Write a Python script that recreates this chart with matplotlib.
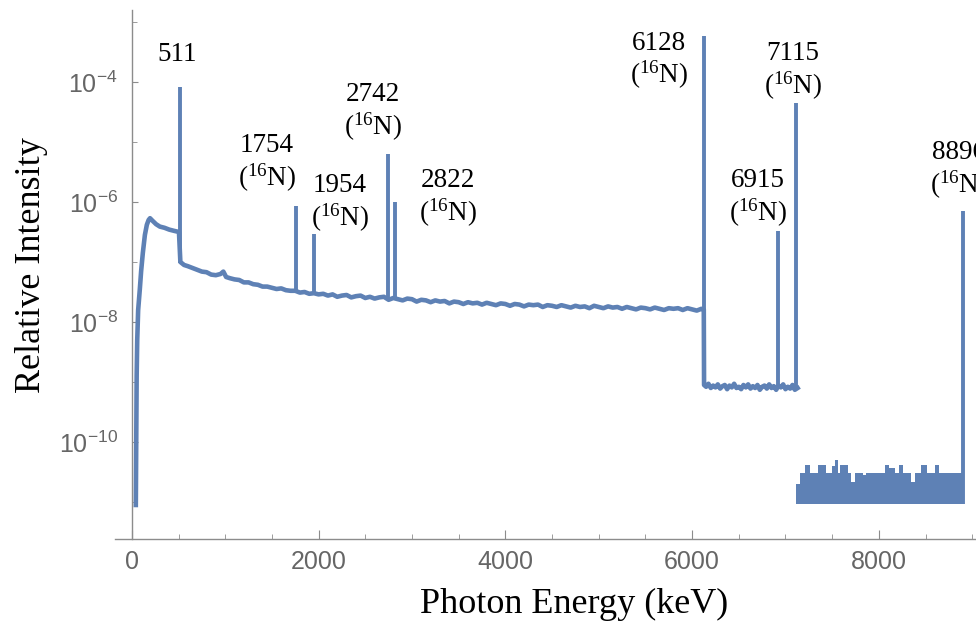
import numpy as np
import matplotlib
matplotlib.use("Agg")
import matplotlib.pyplot as plt
from matplotlib.ticker import FixedLocator, FuncFormatter

plt.rcParams['font.family'] = ['Liberation Serif', 'DejaVu Serif']
plt.rcParams['mathtext.default'] = 'regular'

# continuum, energy (keV) and log10 of relative intensity
cont_e = [43, 47, 52, 58, 68, 86, 100, 118, 140, 161, 180, 195, 220, 260, 300, 350, 400, 450, 505,
          520, 560, 600, 650, 700, 750, 800, 850, 900, 950, 980, 1010, 1050, 1100, 1150, 1200,
          1250, 1300, 1350, 1400, 1450, 1500, 1550, 1600, 1650, 1700, 1750, 1800, 1850, 1900,
          1950, 2000, 2050, 2100, 2150, 2200, 2250, 2300, 2350, 2400, 2450, 2500, 2550, 2600,
          2650, 2700, 2750, 2800, 2850, 2900, 2950, 3000, 3050, 3100, 3150, 3200, 3250, 3300,
          3350, 3400, 3450, 3500, 3550, 3600, 3650, 3700, 3750, 3800, 3850, 3900, 3950, 4000,
          4050, 4100, 4150, 4200, 4250, 4300, 4350, 4400, 4450, 4500, 4550, 4600, 4650, 4700,
          4750, 4800, 4850, 4900, 4950, 5000, 5050, 5100, 5150, 5200, 5250, 5300, 5350, 5400,
          5450, 5500, 5550, 5600, 5650, 5700, 5750, 5800, 5850, 5900, 5950, 6000, 6050, 6100,
          6125,
          6128, 6150, 6175, 6200, 6225, 6250, 6275, 6300, 6325, 6350, 6375, 6400, 6425, 6450,
          6475, 6500, 6525, 6550, 6575, 6600, 6625, 6650, 6675, 6700, 6725, 6750, 6775, 6800,
          6825, 6850, 6875, 6900, 6925, 6950, 6975, 7000, 7025, 7050, 7075, 7100, 7130]
cont_log = [-11.05, -10.0, -8.9, -8.3, -7.8, -7.45, -7.15, -6.85, -6.55, -6.38, -6.30, -6.27,
            -6.31, -6.37, -6.41, -6.43, -6.46, -6.48, -6.50,
            -7.00, -7.05, -7.07, -7.10, -7.13, -7.16, -7.17, -7.21, -7.22, -7.20, -7.16, -7.25,
            -7.27, -7.29, -7.30, -7.34, -7.34, -7.37, -7.38, -7.41, -7.41, -7.43, -7.45, -7.44,
            -7.47, -7.48, -7.48, -7.51, -7.50, -7.53, -7.52, -7.54,
            -7.53, -7.56, -7.54, -7.58, -7.56, -7.55, -7.59, -7.57, -7.56, -7.60, -7.58, -7.61,
            -7.59, -7.58, -7.63, -7.60, -7.62, -7.64, -7.61, -7.62, -7.66, -7.63, -7.64, -7.67,
            -7.64, -7.66, -7.65, -7.69, -7.66, -7.67, -7.70, -7.67, -7.69, -7.68, -7.71, -7.68,
            -7.70, -7.72, -7.69, -7.70, -7.73, -7.70, -7.71, -7.74, -7.71, -7.72, -7.71, -7.75,
            -7.72, -7.73, -7.75, -7.72, -7.74, -7.76, -7.73, -7.75, -7.74, -7.77, -7.73, -7.75,
            -7.77, -7.74, -7.76, -7.75, -7.78, -7.75, -7.77, -7.79, -7.76, -7.77, -7.79, -7.76,
            -7.78, -7.80, -7.77, -7.78, -7.77, -7.80, -7.77, -7.79, -7.81, -7.78, -7.79,
            -9.05, -9.08, -9.03, -9.10, -9.06, -9.09, -9.04, -9.11, -9.07, -9.05, -9.12, -9.06,
            -9.09, -9.03, -9.10, -9.08, -9.12, -9.05, -9.09, -9.04, -9.11, -9.07, -9.10, -9.05,
            -9.13, -9.08, -9.06, -9.11, -9.04, -9.10, -9.07, -9.13, -9.06, -9.09, -9.04, -9.12,
            -9.08, -9.11, -9.05, -9.13, -9.10]

# high-energy floor (binned), bin edges and log10 of top
floor_edges = [7116, 7152, 7205, 7259, 7348, 7430, 7502, 7527, 7562, 7587, 7669, 7705, 7741,
               7830, 7866, 8062, 8108, 8169, 8216, 8258, 8348, 8384, 8455, 8519, 8598, 8641,
               8723, 8890]
floor_top = [-10.70, -10.52, -10.39, -10.52, -10.39, -10.52, -10.40, -10.30, -10.52, -10.39,
             -10.52, -10.66, -10.52, -10.55, -10.52, -10.39, -10.44, -10.52, -10.39, -10.52,
             -10.66, -10.52, -10.39, -10.52, -10.39, -10.52, -10.52]
floor_bottom = -11.03

# gamma lines
peak_e = [511, 1754, 1954, 2742, 2822, 6128, 6915, 7115, 8896]
peak_top = [-4.08, -6.07, -6.53, -5.20, -6.00, -3.23, -6.48, -4.35, -6.15]
peak_base = [-7.02, -7.52, -7.55, -7.62, -7.63, -9.05, -9.10, -9.10, -11.03]
peak_labels = ['511', '1754\n($^{16}$N)', '1954\n($^{16}$N)', '2742\n($^{16}$N)',
               '2822\n($^{16}$N)', '6128\n($^{16}$N)', '6915\n($^{16}$N)',
               '7115\n($^{16}$N)', '8896\n($^{16}$N)']
label_e = [482, 1445, 2227, 2580, 3383, 5642, 6702, 7077, 8854]
label_log = [-3.55, -5.36, -6.02, -4.51, -5.94, -3.65, -5.94, -3.83, -5.48]

blue = '#5E81B5'
grey = '#8c8c8c'

fig = plt.figure(figsize=(9.76, 6.27), dpi=100)
ax = fig.add_axes([115 / 976, 1 - 539 / 627, 861 / 976, 529 / 627])

ax.plot(cont_e, 10.0 ** np.array(cont_log), color=blue, lw=3.3)
ax.vlines(peak_e, 10.0 ** np.array(peak_base), 10.0 ** np.array(peak_top), color=blue, lw=2.8)
tops = 10.0 ** np.array(floor_top + [floor_top[-1]])
ax.fill_between(floor_edges, 10.0 ** floor_bottom, tops, step='post', color=blue, lw=0)

for e, lg, txt in zip(label_e, label_log, peak_labels):
    ax.text(e, 10.0 ** lg, txt, ha='center', va='center', fontsize=19.5,
            linespacing=1.15, color='black')

ax.set_yscale('log')
ax.set_xlim(-180, 9040)
ax.set_ylim(10 ** -11.617, 10 ** -2.8)

ax.spines['top'].set_visible(False)
ax.spines['right'].set_visible(False)
ax.spines['left'].set_position(('data', 0))
for s in ['left', 'bottom']:
    ax.spines[s].set_color(grey)
    ax.spines[s].set_linewidth(1.0)

ax.xaxis.set_major_locator(FixedLocator([0, 2000, 4000, 6000, 8000]))
ax.xaxis.set_minor_locator(FixedLocator([500, 1000, 1500, 2500, 3000, 3500, 4500, 5000, 5500,
                                         6500, 7000, 7500, 8500, 9000]))
ax.yaxis.set_major_locator(FixedLocator([1e-10, 1e-8, 1e-6, 1e-4]))
ax.yaxis.set_minor_locator(FixedLocator([1e-11, 1e-9, 1e-7, 1e-5, 1e-3]))
ax.yaxis.set_major_formatter(FuncFormatter(lambda v, p: r'$10^{%d}$' % round(np.log10(v))))
ax.yaxis.set_minor_formatter(FuncFormatter(lambda v, p: ''))

ax.tick_params(axis='both', which='both', direction='in', color=grey, labelcolor='#666666',
               labelsize=18)
ax.tick_params(axis='x', which='major', length=6.5, pad=8)
ax.tick_params(axis='x', which='minor', length=3.6)
ax.tick_params(axis='y', which='major', length=4.5, pad=10)
ax.tick_params(axis='y', which='minor', length=3.5)
for lab in ax.get_xticklabels() + ax.get_yticklabels():
    lab.set_fontfamily(['Liberation Sans', 'DejaVu Sans'])

ax.set_xlabel('Photon Energy (keV)', fontsize=26)
ax.set_ylabel('Relative Intensity', fontsize=26)
ax.xaxis.set_label_coords(0.533, -0.093)
ax.xaxis.label.set_va('top')
ax.yaxis.set_label_coords(-0.078, 0.518)

fig.savefig('out.png', dpi=100)
